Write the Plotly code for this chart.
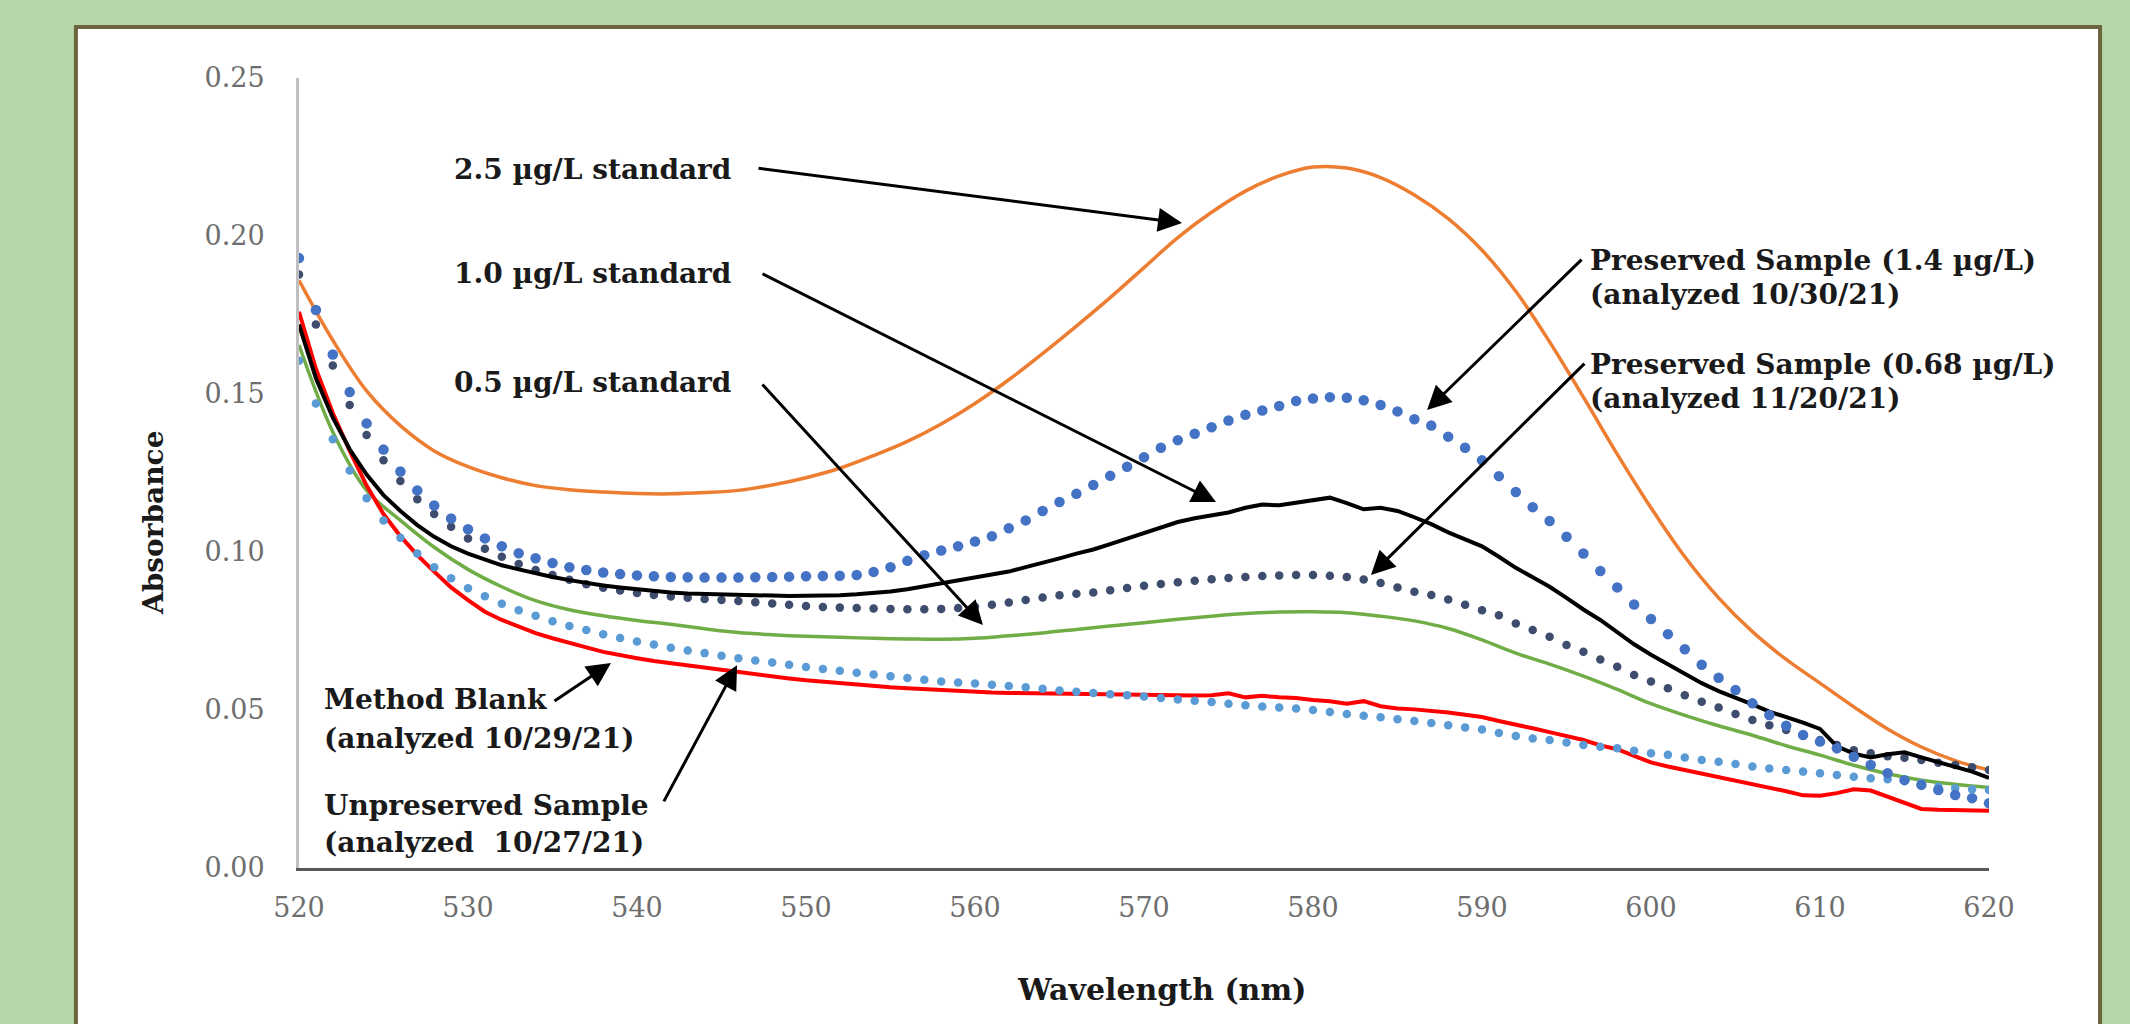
import plotly.graph_objects as go

# ---------------- data ----------------
wl_1nm = list(range(520, 621))
wl_2nm = list(range(520, 621, 2))

std_2_5 = [0.186, 0.167, 0.151, 0.140, 0.132, 0.127, 0.1235, 0.121, 0.1197, 0.119,
           0.1185, 0.1184, 0.1188, 0.1195, 0.1212, 0.1235, 0.1265, 0.1305, 0.135, 0.1405,
           0.147, 0.1545, 0.1628, 0.1715, 0.1805, 0.190, 0.1995, 0.2075, 0.2142, 0.219,
           0.2218, 0.2215, 0.2185, 0.2130, 0.2055, 0.1955, 0.1825, 0.1665, 0.149, 0.131,
           0.114, 0.0985, 0.0855, 0.0748, 0.066, 0.0585, 0.051, 0.044, 0.0383, 0.034, 0.031]

std_0_5 = [0.1655, 0.138, 0.1195, 0.110, 0.1015, 0.0945, 0.089, 0.0846, 0.0817, 0.0798,
           0.0783, 0.0771, 0.0757, 0.0745, 0.0738, 0.0733, 0.073, 0.0727, 0.0725, 0.0724,
           0.0727, 0.0735, 0.0744, 0.0755, 0.0766, 0.0776, 0.0787, 0.0797, 0.0805, 0.081,
           0.0811, 0.0808, 0.0797, 0.0782, 0.0758, 0.0722, 0.068, 0.0645, 0.0607, 0.0565,
           0.052, 0.0483, 0.045, 0.042, 0.0387, 0.0357, 0.0325, 0.0298, 0.0278, 0.0265, 0.0255]

std_1_0 = [0.172, 0.155, 0.1425, 0.1325, 0.1245, 0.118, 0.113, 0.1085, 0.1048, 0.1018,
           0.0995, 0.0975, 0.0958, 0.0945, 0.0932, 0.0921, 0.0911, 0.0902, 0.0894, 0.0888,
           0.0882, 0.0877, 0.0872, 0.0869, 0.0867, 0.0866, 0.0865, 0.0863, 0.0862, 0.0861,
           0.0861, 0.0861, 0.0863, 0.0866, 0.0870, 0.0875, 0.0882, 0.0891, 0.0901, 0.0910,
           0.0918, 0.0928, 0.0938, 0.0952, 0.0965, 0.0980, 0.0995, 0.1008, 0.1025, 0.1042,
           0.1060, 0.1078, 0.1095, 0.1107, 0.1115, 0.1125, 0.1140, 0.1150, 0.1148, 0.1155,
           0.1165, 0.1172, 0.1155, 0.1135, 0.1140, 0.1130, 0.1110, 0.1088, 0.1062, 0.1040,
           0.1018, 0.0985, 0.0950, 0.0920, 0.0890, 0.0855, 0.0818, 0.0785, 0.0745, 0.0708,
           0.0675, 0.0645, 0.0615, 0.0585, 0.0560, 0.0540, 0.0518, 0.0495, 0.0478, 0.0460,
           0.0440, 0.0385, 0.0362, 0.0350, 0.0360, 0.0366, 0.0350, 0.0335, 0.0320, 0.0305,
           0.0285]

method_blank = [0.176, 0.158, 0.144, 0.132, 0.121, 0.112, 0.105, 0.099, 0.0938, 0.0888,
                0.0848, 0.0811, 0.0785, 0.0764, 0.0743, 0.0727, 0.0711, 0.0698, 0.0684, 0.0673,
                0.0664, 0.0655, 0.0648, 0.0640, 0.0632, 0.0626, 0.0620, 0.0613, 0.0606, 0.0600,
                0.0594, 0.0589, 0.0584, 0.0580, 0.0576, 0.0572, 0.0569, 0.0566, 0.0562, 0.0558,
                0.0555, 0.0555, 0.0554, 0.0553, 0.0552, 0.0551, 0.0551, 0.0550, 0.0548, 0.0547,
                0.0546, 0.0546, 0.0545, 0.0546, 0.0547, 0.0553, 0.0540, 0.0545, 0.0540, 0.0538,
                0.0532, 0.0528, 0.0520, 0.0528, 0.0512, 0.0505, 0.0502, 0.0498, 0.0492, 0.0485,
                0.0478, 0.0465, 0.0455, 0.0442, 0.0430, 0.0418, 0.0405, 0.0388, 0.0376, 0.0355,
                0.0334, 0.0321, 0.0310, 0.0300, 0.0288, 0.0278, 0.0268, 0.0256, 0.0243, 0.0230,
                0.0229, 0.0237, 0.0249, 0.0245, 0.0226, 0.0205, 0.0187, 0.0184, 0.0184, 0.0183,
                0.0181]

unpreserved = [0.1605, 0.147, 0.1357, 0.1258, 0.117, 0.110, 0.1045, 0.0995, 0.0952, 0.0917,
               0.0885, 0.0860, 0.0836, 0.0816, 0.0798, 0.0781, 0.0766, 0.0753, 0.0740, 0.0728,
               0.0717, 0.0707, 0.0697, 0.0688, 0.0680, 0.0672, 0.0664, 0.0657, 0.0650, 0.0643,
               0.0636, 0.0630, 0.0624, 0.0618, 0.0612, 0.0607, 0.0601, 0.0596, 0.0590, 0.0587,
               0.0584, 0.0580, 0.0576, 0.0572, 0.0567, 0.0562, 0.0558, 0.0554, 0.0550, 0.0547,
               0.0543, 0.0538, 0.0533, 0.0529, 0.0525, 0.0520, 0.0515, 0.0511, 0.0508, 0.0505,
               0.0500, 0.0494, 0.0487, 0.0482, 0.0477, 0.0471, 0.0465, 0.0459, 0.0452, 0.0445,
               0.0438, 0.0427, 0.0418, 0.0410, 0.0405, 0.0397, 0.0389, 0.0384, 0.0379, 0.0371,
               0.0363, 0.0358, 0.0350, 0.0342, 0.0336, 0.0329, 0.0321, 0.0315, 0.0310, 0.0305,
               0.0300, 0.0294, 0.0289, 0.0284, 0.0281, 0.0278, 0.0268, 0.0257, 0.0252, 0.0249,
               0.0247]

preserved_068 = [0.1878, 0.172, 0.159, 0.1465, 0.137, 0.129, 0.1225, 0.1167, 0.112, 0.108,
                 0.1043, 0.101, 0.0985, 0.0962, 0.0943, 0.0927, 0.0912, 0.0898, 0.0887, 0.0878,
                 0.0870, 0.0864, 0.0859, 0.0855, 0.0851, 0.0848, 0.0845, 0.0841, 0.0837, 0.0833,
                 0.0829, 0.0826, 0.0824, 0.0823, 0.0821, 0.0820, 0.0819, 0.0819, 0.0820, 0.0823,
                 0.0827, 0.0833, 0.0840, 0.0848, 0.0856, 0.0863, 0.0868, 0.0872, 0.0879, 0.0886,
                 0.0893, 0.0899, 0.0904, 0.0909, 0.0914, 0.0918, 0.0921, 0.0924, 0.0926, 0.0927,
                 0.0927, 0.0925, 0.0921, 0.0913, 0.0902, 0.0888, 0.0874, 0.0864, 0.0850, 0.0833,
                 0.0816, 0.0800, 0.0774, 0.0753, 0.0732, 0.0706, 0.0684, 0.0660, 0.0637, 0.0611,
                 0.0590, 0.0569, 0.0547, 0.0526, 0.0508, 0.0487, 0.0468, 0.0452, 0.0437, 0.0420,
                 0.0405, 0.0389, 0.0373, 0.0363, 0.0354, 0.0349, 0.0342, 0.0333, 0.0326, 0.0319,
                 0.0310]

preserved_14 = [0.193, 0.1766, 0.1625, 0.1506, 0.1407, 0.1324, 0.1255, 0.1195, 0.1147, 0.1106,
                0.1072, 0.1043, 0.1018, 0.0996, 0.0980, 0.0965, 0.0952, 0.0943, 0.0935, 0.0930,
                0.0926, 0.0923, 0.0921, 0.0920, 0.0919, 0.0919, 0.0919, 0.0920, 0.0921, 0.0922,
                0.0923, 0.0924, 0.0925, 0.0927, 0.0937, 0.0952, 0.0972, 0.0990, 0.1005, 0.1018,
                0.1033, 0.1050, 0.1075, 0.1100, 0.1130, 0.1158, 0.1184, 0.1212, 0.1241, 0.1270,
                0.1300, 0.1330, 0.1354, 0.1374, 0.1395, 0.1416, 0.1434, 0.1448, 0.1462, 0.1478,
                0.1486, 0.1490, 0.1488, 0.1480, 0.1465, 0.1445, 0.1420, 0.1400, 0.1365, 0.1330,
                0.1290, 0.1240, 0.1190, 0.1142, 0.1098, 0.1048, 0.0995, 0.0940, 0.0888, 0.0834,
                0.0788, 0.0740, 0.0692, 0.0643, 0.0602, 0.0563, 0.0521, 0.0484, 0.0450, 0.0421,
                0.0400, 0.0379, 0.0352, 0.0326, 0.0300, 0.0278, 0.0263, 0.0247, 0.0231, 0.0221,
                0.0205]

y_ticks = [0.00, 0.05, 0.10, 0.15, 0.20, 0.25]
x_ticks = [520, 530, 540, 550, 560, 570, 580, 590, 600, 610, 620]

# annotation text lines / anchor positions (data units, left-anchored)
labels = [
    ("2.5 µg/L standard", 529.05, 0.2209),
    ("1.0 µg/L standard", 529.05, 0.1880),
    ("0.5 µg/L standard", 529.05, 0.1535),
    ("Method Blank", 521.36, 0.0532),
    ("(analyzed 10/29/21)", 521.36, 0.0411),
    ("Unpreserved Sample", 521.36, 0.0199),
    ("(analyzed\u00a0 10/27/21)", 521.36, 0.0082),
    ("Preserved Sample (1.4 µg/L)", 596.27, 0.1921),
    ("(analyzed 10/30/21)", 596.27, 0.1816),
    ("Preserved Sample (0.68 µg/L)", 596.27, 0.1592),
    ("(analyzed 11/20/21)", 596.27, 0.1487),
]
# arrows: (tail_x, tail_y, tip_x, tip_y)
arrows = [
    (547.1, 0.2215, 572.25, 0.2041),
    (547.34, 0.1883, 574.26, 0.1158),
    (547.34, 0.1535, 560.47, 0.0769),
    (535.03, 0.0525, 538.46, 0.0649),
    (541.54, 0.0206, 545.92, 0.0642),
    (595.98, 0.1930, 586.75, 0.1449),
    (596.15, 0.1601, 583.43, 0.0927),
]

# ---------------- figure ----------------
fig = go.Figure()

fig.add_trace(go.Scatter(x=wl_2nm, y=std_2_5, mode="lines", line=dict(color="#ED7D31", width=3.5, shape="spline"),
                         name="2.5 µg/L standard"))
fig.add_trace(go.Scatter(x=wl_2nm, y=std_0_5, mode="lines", line=dict(color="#70AD47", width=3.5, shape="spline"),
                         name="0.5 µg/L standard"))
fig.add_trace(go.Scatter(x=wl_1nm, y=method_blank, mode="lines", line=dict(color="#FF0000", width=4),
                         name="Method Blank"))
fig.add_trace(go.Scatter(x=wl_1nm, y=unpreserved, mode="markers",
                         marker=dict(color="#5B9BD5", size=8.5, line=dict(width=0)), name="Unpreserved Sample"))
fig.add_trace(go.Scatter(x=wl_1nm, y=preserved_068, mode="markers",
                         marker=dict(color="#3E4C6E", size=8.5, line=dict(width=0)), name="Preserved Sample (0.68 µg/L)"))
fig.add_trace(go.Scatter(x=wl_1nm, y=std_1_0, mode="lines", line=dict(color="#000000", width=4),
                         name="1.0 µg/L standard"))
fig.add_trace(go.Scatter(x=wl_1nm, y=preserved_14, mode="markers",
                         marker=dict(color="#4472C4", size=10.5, line=dict(width=0)), name="Preserved Sample (1.4 µg/L)"))

for text, x, y in labels:
    fig.add_annotation(x=x, y=y, xref="x", yref="y", text=f"<b>{text}</b>", showarrow=False,
                       xanchor="left", yanchor="middle", align="left",
                       font=dict(family="DejaVu Serif", size=28, color="#1a1a1a"))

for tx, ty, hx, hy in arrows:
    fig.add_annotation(x=hx, y=hy, ax=tx, ay=ty, xref="x", yref="y", axref="x", ayref="y",
                       text="", showarrow=True, arrowhead=2, arrowsize=1.6, arrowwidth=3,
                       arrowcolor="#000000", standoff=0, startstandoff=0)

# axis titles
fig.add_annotation(x=-0.0864, y=0.4367, xref="paper", yref="paper", text="<b>Absorbance</b>",
                   showarrow=False, textangle=-90, xanchor="center", yanchor="middle",
                   font=dict(family="DejaVu Serif", size=28, color="#1a1a1a"))
fig.add_annotation(x=0.5104, y=-0.1544, xref="paper", yref="paper", text="<b>Wavelength (nm)</b>",
                   showarrow=False, xanchor="center", yanchor="middle",
                   font=dict(family="DejaVu Serif", size=30, color="#1a1a1a"))

# white panel with olive border
fig.add_shape(type="rect", xref="paper", yref="paper", x0=-0.132, y0=-0.25, x1=1.0657, y1=1.0646,
              fillcolor="white", line=dict(color="#6B6440", width=4), layer="below")

fig.update_layout(
    width=2130, height=1024,
    paper_bgcolor="#B6D7A8", plot_bgcolor="rgba(0,0,0,0)",
    margin=dict(l=299, r=141, t=78, b=156),
    showlegend=False,
    hovermode=False,
)
fig.update_xaxes(range=[520, 620], tickvals=x_ticks, ticktext=[str(v) for v in x_ticks],
                 showgrid=False, zeroline=False, showline=True, linecolor="#595959", linewidth=3,
                 ticks="", ticklabelstandoff=14, automargin=False,
                 tickfont=dict(family="DejaVu Serif", size=27, color="#6E6E6E"))
fig.update_yaxes(range=[0, 0.25], tickvals=y_ticks, ticktext=[f"{v:.2f}" for v in y_ticks],
                 showgrid=False, zeroline=False, showline=True, linecolor="#BFBFBF", linewidth=3,
                 ticks="", ticklabelstandoff=26, automargin=False,
                 tickfont=dict(family="DejaVu Serif", size=27, color="#6E6E6E"))

fig.write_html("out.html", config={"displayModeBar": False},
               post_script="document.body.style.margin='0px';document.body.style.overflow='hidden';")
